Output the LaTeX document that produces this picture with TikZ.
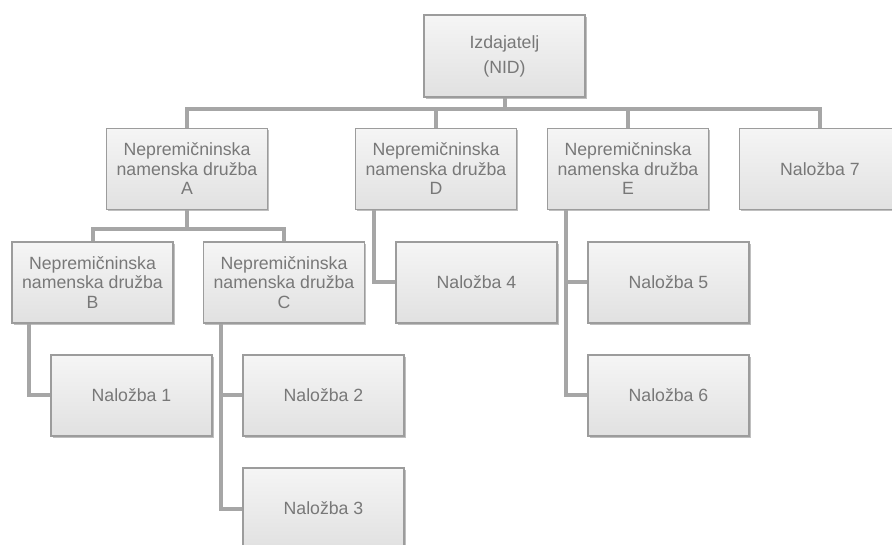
\documentclass[tikz,border=0pt]{standalone}
\usepackage{fontspec}
\setmainfont{Liberation Sans}
\usetikzlibrary{shadows}
\definecolor{boxline}{HTML}{9C9C9C}
\definecolor{boxtop}{HTML}{F5F5F5}
\definecolor{boxbot}{HTML}{E1E1E1}
\definecolor{conn}{HTML}{A6A6A6}
\definecolor{txt}{HTML}{787878}
\tikzset{
  orgbox/.style={draw=boxline, line width=1.2pt, top color=boxtop, bottom color=boxbot,
    minimum width=161pt, minimum height=81pt, inner sep=2pt, align=center,
    text=txt, font=\fontsize{17.7}{19.5}\selectfont,
    drop shadow={shadow xshift=1.5pt, shadow yshift=-2pt, opacity=0.25, fill=black}},
  link/.style={draw=conn, line width=4pt}
}
\begin{document}
\begin{tikzpicture}[x=1pt, y=-1pt]
\useasboundingbox (0,0) rectangle (892,545);
\clip (0,0) rectangle (892,545);
\node[orgbox, minimum height=82pt, font=\fontsize{17.7}{25}\selectfont] (nid) at (504.5,56) {Izdajatelj\\(NID)};
\node[orgbox] (a) at (187,169) {Nepremičninska\\namenska družba\\A};
\node[orgbox] (d) at (436,169) {Nepremičninska\\namenska družba\\D};
\node[orgbox] (e) at (628,169) {Nepremičninska\\namenska družba\\E};
\node[orgbox] (n7) at (820,169) {Naložba 7};
\node[orgbox] (b) at (92.5,282.5) {Nepremičninska\\namenska družba\\B};
\node[orgbox] (c) at (284,282.5) {Nepremičninska\\namenska družba\\C};
\node[orgbox] (n4) at (476.5,282.5) {Naložba 4};
\node[orgbox] (n5) at (668.5,282.5) {Naložba 5};
\node[orgbox] (n6) at (668.5,395.5) {Naložba 6};
\node[orgbox] (n1) at (131.5,395.5) {Naložba 1};
\node[orgbox] (n2) at (323.5,395.5) {Naložba 2};
\node[orgbox] (n3) at (323.5,508.5) {Naložba 3};
\draw[link] (nid.south) -- ++(0,11) -| (a.north);
\draw[link] (nid.south) -- ++(0,11) -| (d.north);
\draw[link] (nid.south) -- ++(0,11) -| (e.north);
\draw[link] (nid.south) -- ++(0,11) -| (n7.north);
\draw[link] (a.south) -- ++(0,19) -| (b.north);
\draw[link] (a.south) -- ++(0,19) -| (c.north);
\draw[link] ([xshift=18pt]b.south west) |- (n1.west);
\draw[link] ([xshift=18pt]c.south west) |- (n2.west);
\draw[link] ([xshift=18pt]c.south west) |- (n3.west);
\draw[link] ([xshift=19pt]d.south west) |- (n4.west);
\draw[link] ([xshift=19pt]e.south west) |- (n5.west);
\draw[link] ([xshift=19pt]e.south west) |- (n6.west);
\end{tikzpicture}
\end{document}
